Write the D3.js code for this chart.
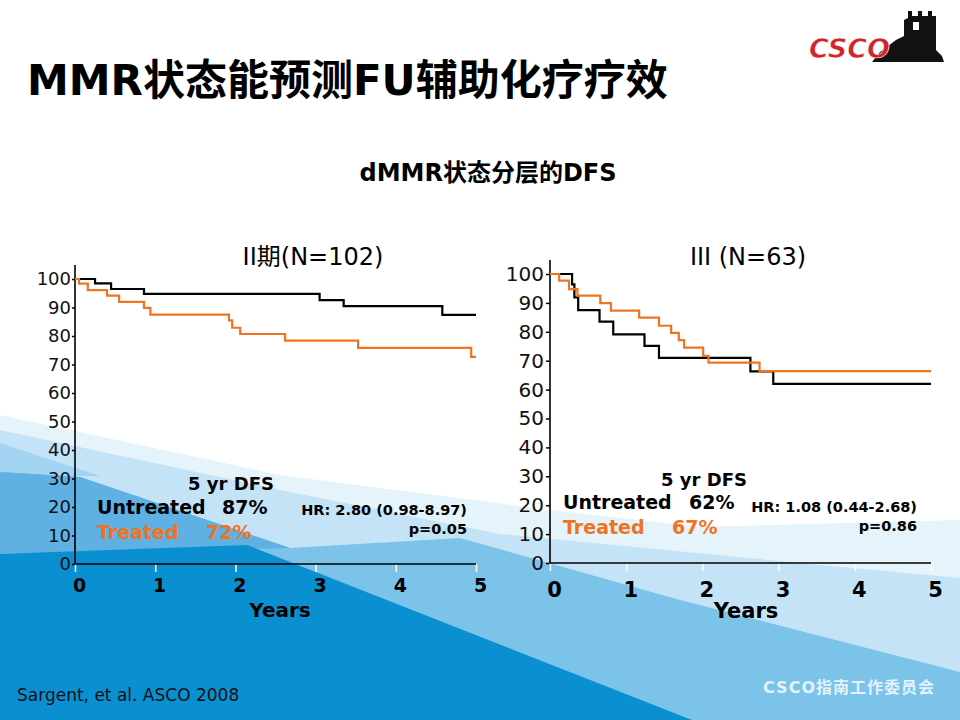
<!DOCTYPE html>
<html>
<head>
<meta charset="utf-8">
<script src="https://cdn.jsdelivr.net/npm/d3@7"></script>
<style>
  html, body { margin: 0; padding: 0; background: #fff; }
  svg { display: block; }
  text { font-family: "DejaVu Sans", "Noto Sans CJK SC", sans-serif; }
</style>
</head>
<body>
<svg id="slide" width="960" height="720"></svg>
<script>
// ---- data ----
const yearTicks = [0, 1, 2, 3, 4, 5];
const pctTicks = [0, 10, 20, 30, 40, 50, 60, 70, 80, 90, 100];

// stage II (N=102)
const s2UntreatedT = [0, 0.25, 0.45, 0.86, 3.05, 3.35, 4.58, 5];
const s2UntreatedS = [100, 98.5, 96.5, 94.8, 92.6, 90.5, 87.4, 87.4];
const s2TreatedT = [0, 0.05, 0.16, 0.40, 0.55, 0.86, 0.94, 1.92, 1.96, 2.06, 2.62, 3.53, 4.94, 5];
const s2TreatedS = [100, 98.4, 96.1, 94.2, 92.0, 89.9, 87.5, 85.5, 82.9, 80.7, 78.4, 75.8, 72.7, 72.7];

// stage III (N=63)
const s3UntreatedT = [0, 0.29, 0.32, 0.37, 0.65, 0.83, 1.24, 1.43, 2.63, 2.93, 5];
const s3UntreatedS = [100, 96.4, 91.9, 87.5, 83.5, 79.1, 75.1, 71.0, 66.3, 62.0, 62.0];
const s3TreatedT = [0, 0.12, 0.25, 0.36, 0.66, 0.80, 1.17, 1.43, 1.59, 1.69, 1.76, 2.01, 2.08, 2.75, 5];
const s3TreatedS = [100, 97.7, 94.8, 92.5, 89.9, 87.3, 84.9, 82.1, 79.6, 77.1, 74.5, 71.7, 69.3, 66.4, 66.4];

const panelTitles = ["II期(N=102)", "III (N=63)"];
const dfsUntreated = ["87%", "62%"];
const dfsTreated = ["72%", "67%"];
const hrText = ["HR: 2.80 (0.98-8.97)", "HR: 1.08 (0.44-2.68)"];
const pText = ["p=0.05", "p=0.86"];

const BLACK = "#000";
const ORANGE = "#ef7421";

const svg = d3.select("#slide");

// ---- background waves ----
const bgLayers = [
  { fill: "#e5f3fb", pts: [[0,415],[280,475],[550,510],[700,527],[960,520],[960,720],[0,720]] },
  { fill: "#c4e3f6", pts: [[0,430],[280,490],[500,534],[820,565],[960,578],[960,720],[0,720]] },
  { fill: "#a2d3f0", pts: [[0,443],[100,476],[0,476]] },
  { fill: "#7cc3ea", pts: [[0,472],[80,477],[290,548],[460,538],[680,600],[960,672],[960,720],[0,720]] },
  { fill: "#5eb1e2", pts: [[0,472],[80,477],[290,548],[0,554]] },
  { fill: "#0a8fd1", pts: [[0,554],[247,545],[692,720],[0,720]] }
];
const bgLine = d3.line();
svg.append("g").selectAll("path")
  .data(bgLayers)
  .enter()
  .append("path")
  .attr("d", d => bgLine(d.pts) + "Z")
  .attr("fill", d => d.fill);

// ---- titles ----
svg.append("text")
  .attr("x", 27).attr("y", 95)
  .attr("font-size", 42).attr("font-weight", "bold")
  .text("MMR状态能预测FU辅助化疗疗效");

svg.append("text")
  .attr("x", 488).attr("y", 181)
  .attr("text-anchor", "middle")
  .attr("font-size", 24).attr("font-weight", "bold")
  .text("dMMR状态分层的DFS");

// ---- logo ----
const logo = svg.append("g");
logo.append("path")
  .attr("d", "M872,62 L944,62 L942,56 L936,50 L936,16 L932,16 L932,11 L928,11 L928,16 L922,16 L922,11 L918,11 L918,16 L912,16 L912,11 L908,11 L908,18 L904,20 L904,36 L896,40 L888,46 L880,52 Z")
  .attr("fill", "#111");
logo.append("rect").attr("x", 913).attr("y", 22).attr("width", 6).attr("height", 8).attr("fill", "#fff");
logo.append("text")
  .attr("x", 809).attr("y", 58)
  .attr("font-size", 27).attr("font-weight", "bold").attr("font-style", "italic")
  .attr("fill", "#d2232a")
  .attr("stroke", "#fff").attr("stroke-width", 0.6)
  .text("CSCO");

// ---- panels ----
const panels = [
  { x0: 75, x1: 476, yTop: 265, y100: 279, y0: 564, yFont: 18, xFont: 19, xLabY: 592,
    titleX: 313, yearsX: 280, yearsY: 617,
    curves: [[s2UntreatedT, s2UntreatedS, BLACK], [s2TreatedT, s2TreatedS, ORANGE]],
    dfsX: 231, labX: 97, unY: 514, trY: 539, unPctX: 222, trPctX: 206, headY: 490,
    hrX: 467, hrY: 515, pY: 534 },
  { x0: 550, x1: 931, yTop: 260, y100: 274, y0: 563, yFont: 20, xFont: 21, xLabY: 597,
    titleX: 748, yearsX: 746, yearsY: 618,
    curves: [[s3UntreatedT, s3UntreatedS, BLACK], [s3TreatedT, s3TreatedS, ORANGE]],
    dfsX: 704, labX: 563, unY: 509, trY: 534, unPctX: 689, trPctX: 672, headY: 486,
    hrX: 917, hrY: 512, pY: 531 }
];

panels.forEach((p, i) => {
  const g = svg.append("g");
  const x = d3.scaleLinear().domain([0, 5]).range([p.x0, p.x1]);
  const y = d3.scaleLinear().domain([0, 100]).range([p.y0, p.y100]);

  // panel title
  g.append("text")
    .attr("x", p.titleX).attr("y", 265)
    .attr("text-anchor", "middle")
    .attr("font-size", 24)
    .text(panelTitles[i]);

  // y axis
  const yAxis = g.append("g")
    .attr("transform", `translate(${p.x0},0)`)
    .call(d3.axisLeft(y).tickValues(pctTicks).tickSize(i === 0 ? 3 : 4).tickPadding(i === 0 ? 1 : 2));
  yAxis.select(".domain").remove();
  yAxis.selectAll("line").attr("stroke", BLACK).attr("stroke-width", 1.5);
  yAxis.selectAll("text")
    .attr("font-family", "DejaVu Sans, sans-serif")
    .attr("font-size", p.yFont)
    .attr("fill", "#111");

  // x axis, white ticks below the line
  const xAxis = g.append("g")
    .attr("transform", `translate(0,${p.y0})`)
    .call(d3.axisBottom(x).tickValues(yearTicks).tickSize(8).tickFormat(d3.format("d")));
  xAxis.select(".domain").remove();
  xAxis.selectAll("line").attr("stroke", "#fff").attr("stroke-width", 1.5);
  xAxis.selectAll("text")
    .attr("y", p.xLabY - p.y0).attr("dy", 0).attr("dx", 4)
    .attr("font-family", "DejaVu Sans, sans-serif")
    .attr("font-weight", "bold")
    .attr("font-size", p.xFont)
    .attr("fill", "#000");

  // axis lines
  g.append("line")
    .attr("x1", p.x0).attr("x2", p.x0).attr("y1", p.yTop).attr("y2", p.y0)
    .attr("stroke", BLACK).attr("stroke-width", 1.6);
  g.append("line")
    .attr("x1", p.x0).attr("x2", p.x1).attr("y1", p.y0).attr("y2", p.y0)
    .attr("stroke", BLACK).attr("stroke-width", 1.6);

  g.append("text")
    .attr("x", p.yearsX).attr("y", p.yearsY)
    .attr("text-anchor", "middle")
    .attr("font-size", i === 0 ? 20 : 21).attr("font-weight", "bold")
    .text("Years");

  // KM step curves
  const line = d3.line()
    .x(d => x(d[0]))
    .y(d => y(d[1]))
    .curve(d3.curveStepAfter);
  p.curves.forEach(([ts, ss, color]) => {
    g.append("path")
      .datum(ts.map((t, k) => [t, ss[k]]))
      .attr("d", line)
      .attr("fill", "none")
      .attr("stroke", color)
      .attr("stroke-width", 2.2);
  });

  // annotations
  g.append("text")
    .attr("x", p.dfsX).attr("y", p.headY)
    .attr("text-anchor", "middle")
    .attr("font-size", 18).attr("font-weight", "bold")
    .text("5 yr DFS");
  g.append("text")
    .attr("x", p.labX).attr("y", p.unY)
    .attr("font-size", 19).attr("font-weight", "bold")
    .text("Untreated");
  g.append("text")
    .attr("x", p.unPctX).attr("y", p.unY)
    .attr("font-size", 19).attr("font-weight", "bold")
    .text(dfsUntreated[i]);
  g.append("text")
    .attr("x", p.labX).attr("y", p.trY)
    .attr("font-size", 19).attr("font-weight", "bold")
    .attr("fill", ORANGE)
    .text("Treated");
  g.append("text")
    .attr("x", p.trPctX).attr("y", p.trY)
    .attr("font-size", 19).attr("font-weight", "bold")
    .attr("fill", ORANGE)
    .text(dfsTreated[i]);
  g.append("text")
    .attr("x", p.hrX).attr("y", p.hrY)
    .attr("text-anchor", "end")
    .attr("font-size", 14.5).attr("font-weight", "bold")
    .text(hrText[i]);
  g.append("text")
    .attr("x", p.hrX).attr("y", p.pY)
    .attr("text-anchor", "end")
    .attr("font-size", 14.5).attr("font-weight", "bold")
    .text(pText[i]);
});

// ---- footer ----
svg.append("text")
  .attr("x", 17).attr("y", 701)
  .attr("font-family", "Liberation Sans, Arial, sans-serif")
  .attr("font-size", 17)
  .attr("fill", "#111")
  .text("Sargent, et al. ASCO 2008");

svg.append("text")
  .attr("x", 935).attr("y", 693)
  .attr("text-anchor", "end")
  .attr("font-size", 16).attr("font-weight", "bold")
  .attr("letter-spacing", 1)
  .attr("fill", "#e3f2fb")
  .text("CSCO指南工作委员会");
</script>
</body>
</html>
